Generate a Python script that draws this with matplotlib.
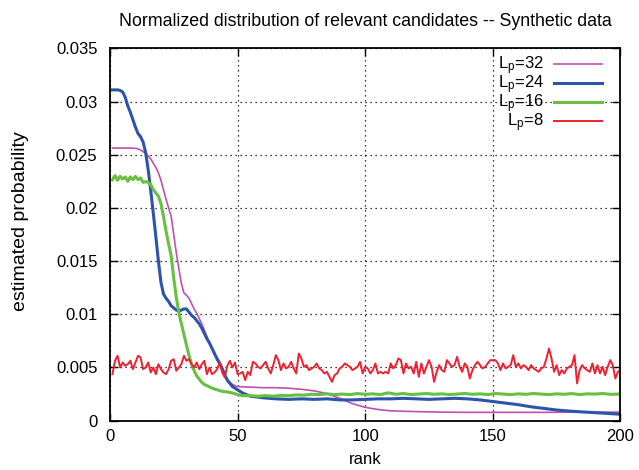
import numpy as np
import matplotlib
matplotlib.use('Agg')
import matplotlib.pyplot as plt
from matplotlib.ticker import MultipleLocator, FuncFormatter

plt.rcParams['font.family'] = ['Liberation Sans', 'DejaVu Sans']
plt.rcParams['mathtext.fontset'] = 'custom'
plt.rcParams['mathtext.rm'] = 'Liberation Sans'
plt.rcParams['mathtext.it'] = 'Liberation Sans'

# L_p = 8 : one value per rank (1..200), units of 1e-3
red_vals = [
    4.37, 5.63, 6.10, 5.00, 5.47, 5.16, 5.31, 5.63, 4.84, 5.47,
    6.10, 5.94, 4.84, 5.00, 5.47, 4.53, 5.00, 4.37, 5.31, 4.84,
    4.53, 4.37, 4.84, 5.63, 5.78, 4.69, 5.00, 5.31, 6.10, 5.63,
    5.78, 5.31, 5.00, 5.47, 4.84, 5.31, 5.63, 4.37, 5.00, 4.37,
    4.53, 4.84, 5.47, 4.53, 4.06, 5.16, 5.63, 5.00, 5.47, 4.37,
    4.44, 4.59, 3.81, 4.59, 4.28, 5.53, 5.38, 5.06, 4.91, 5.22,
    5.53, 4.91, 4.44, 5.22, 6.16, 5.69, 4.75, 5.38, 4.91, 5.06,
    5.53, 4.91, 4.44, 6.31, 5.85, 5.06, 5.22, 4.75, 4.91, 5.06,
    5.38, 4.91, 4.75, 4.44, 4.59, 4.12, 3.65, 4.28, 4.44, 4.91,
    5.06, 5.38, 5.22, 5.06, 4.75, 4.91, 5.06, 5.53, 4.44, 5.06,
    4.91, 4.44, 4.75, 5.38, 4.44, 4.59, 4.44, 4.59, 4.44, 5.38,
    4.91, 5.22, 5.85, 5.69, 4.44, 5.38, 4.91, 5.06, 4.44, 5.53,
    4.12, 5.38, 4.44, 5.06, 5.69, 5.06, 3.65, 4.59, 5.22, 4.75,
    4.59, 5.69, 5.38, 5.06, 5.22, 6.00, 5.06, 4.59, 5.38, 5.06,
    3.97, 4.75, 5.22, 5.53, 5.22, 4.91, 5.06, 5.38, 5.69, 5.69,
    5.69, 5.38, 4.75, 5.38, 4.91, 5.06, 5.22, 6.16, 5.06, 5.38,
    4.91, 5.22, 5.06, 4.75, 5.22, 4.91, 4.75, 4.59, 4.91, 5.06,
    5.85, 6.78, 5.85, 4.59, 5.22, 4.28, 4.75, 4.44, 4.91, 5.06,
    5.22, 6.16, 3.50, 4.75, 5.22, 4.91, 4.75, 4.59, 5.38, 4.44,
    5.22, 4.44, 5.06, 4.28, 5.06, 5.69, 5.22, 3.97, 4.59, 4.75,
]
red_rank = np.arange(1, len(red_vals) + 1)

# L_p = 16
green_rank = [1, 2, 3, 4, 5, 6, 7, 8, 9, 10, 11, 12, 13, 14, 15, 16, 17, 18,
              19, 20, 21, 22, 23, 24, 25, 26, 27, 28, 29, 30, 31, 32, 33, 34,
              35, 36, 37, 38, 40, 42, 44, 46, 48, 50, 52, 55, 58, 61, 64, 67,
              70, 73, 76, 79, 82, 85, 88, 91, 94, 97, 100, 103, 106, 109, 112,
              115, 118, 121, 124, 127, 130, 133, 136, 139, 142, 145, 148, 151,
              154, 157, 160, 163, 166, 169, 172, 175, 178, 181, 184, 187, 190,
              193, 196, 200]
green_vals = [22.66, 23.04, 22.60, 22.97, 22.72, 22.91, 22.50, 22.91, 22.66,
              22.97, 22.66, 22.82, 22.41, 22.47, 22.41, 22.19, 21.72, 21.41,
              21.10, 20.40, 19.20, 17.80, 16.60, 15.50, 13.40, 11.60, 10.20,
              9.10, 8.10, 7.10, 6.10, 5.30, 4.70, 4.20, 3.90, 3.60, 3.40, 3.30,
              3.05, 2.90, 2.75, 2.70, 2.60, 2.45, 2.35, 2.35, 2.30, 2.35, 2.30,
              2.38, 2.35, 2.42, 2.40, 2.48, 2.45, 2.52, 2.45, 2.50, 2.45, 2.55,
              2.48, 2.52, 2.45, 2.62, 2.48, 2.55, 2.45, 2.50, 2.55, 2.48, 2.52,
              2.45, 2.50, 2.55, 2.48, 2.52, 2.45, 2.55, 2.50, 2.45, 2.52, 2.48,
              2.55, 2.50, 2.45, 2.52, 2.48, 2.55, 2.45, 2.52, 2.50, 2.55, 2.48,
              2.50]

# L_p = 24
blue_rank = [1, 2, 3, 4, 5, 6, 7, 8, 9, 10, 11, 12, 13, 14, 15, 16, 17, 18, 19,
             20, 21, 22, 23, 24, 25, 26, 27, 28, 29, 30, 31, 32, 33, 34, 35, 36,
             37, 38, 39, 40, 41, 42, 43, 44, 45, 46, 47, 48, 50, 52, 55, 60, 65,
             70, 75, 80, 85, 90, 95, 100, 105, 110, 115, 120, 125, 130, 135,
             140, 145, 150, 155, 160, 165, 170, 175, 180, 185, 190, 195, 200]
blue_vals = [31.1, 31.1, 31.1, 31.05, 30.9, 30.4, 29.6, 29.0, 28.3, 27.6,
             27.0, 26.7, 26.2, 25.2, 23.6, 21.6, 19.5, 17.3, 15.0, 13.0, 11.9,
             11.5, 11.2, 10.8, 10.6, 10.4, 10.3, 10.4, 10.5, 10.5, 10.2, 9.9,
             9.7, 9.4, 9.1, 8.7, 8.2, 7.7, 7.3, 6.8, 6.3, 5.8, 5.4, 4.9, 4.3,
             3.8, 3.5, 3.2, 2.9, 2.6, 2.3, 2.15, 2.05, 2.0, 2.05, 2.0, 2.05,
             1.95, 1.95, 2.0, 2.05, 2.05, 2.1, 2.05, 2.0, 2.05, 2.1, 2.05, 1.95,
             1.8, 1.65, 1.5, 1.3, 1.15, 1.0, 0.9, 0.82, 0.75, 0.68, 0.6]

# L_p = 32
purple_rank = [1, 4, 8, 9, 10, 11, 12, 13, 14, 15, 16, 17, 18, 19, 20, 21, 22,
               23, 24, 25, 26, 27, 28, 29, 30, 31, 32, 33, 34, 35, 36, 37, 38,
               39, 40, 41, 42, 43, 44, 45, 46, 47, 48, 50, 55, 60, 65, 70, 75,
               80, 85, 90, 95, 100, 105, 110, 120, 130, 140, 150, 160, 170, 180,
               190, 200]
purple_vals = [25.63, 25.63, 25.63, 25.62, 25.6, 25.55, 25.45, 25.3, 25.1, 24.9,
               24.6, 24.2, 23.8, 23.3, 22.6, 21.7, 20.8, 20.0, 19.2, 17.5, 15.8,
               14.3, 12.9, 12.0, 11.8, 11.5, 11.0, 10.5, 10.1, 9.6, 9.1, 8.5,
               7.9, 7.3, 6.8, 6.2, 5.7, 5.2, 4.8, 4.3, 3.9, 3.6, 3.4, 3.2, 3.15,
               3.1, 3.1, 3.05, 2.95, 2.8, 2.55, 2.1, 1.6, 1.25, 1.05, 0.92, 0.85,
               0.8, 0.78, 0.78, 0.78, 0.78, 0.8, 0.8, 0.8]

series = [
    (purple_rank, purple_vals, r'$\mathrm{L_p}$=32', '#c050b0', 1.2),
    (blue_rank, blue_vals, r'$\mathrm{L_p}$=24', '#2c54a8', 2.2),
    (green_rank, green_vals, r'$\mathrm{L_p}$=16', '#68c040', 2.2),
    (red_rank, red_vals, r'$\mathrm{L_p}$=8', '#f02030', 1.4),
]

fig = plt.figure(figsize=(6.39, 4.70), dpi=100)
ax = fig.add_axes([0.172, 0.105, 0.799, 0.792])

for rank, vals, label, color, lw in series:
    ax.plot(rank, np.array(vals) * 1e-3, color=color, lw=lw, label=label)

ax.set_xlim(0, 200)
ax.set_ylim(0, 0.035)
ax.xaxis.set_major_locator(MultipleLocator(50))
ax.yaxis.set_major_locator(MultipleLocator(0.005))
ax.yaxis.set_major_formatter(FuncFormatter(lambda v, p: '%g' % round(v, 4)))
ax.tick_params(direction='in', length=6, width=1, top=True, right=True,
               labelsize=12)
ax.tick_params(axis='y', pad=9)
ax.tick_params(axis='x', pad=6)
for s in ax.spines.values():
    s.set_linewidth(1.3)

ax.grid(True, color='black', linestyle=(0, (1, 3)), linewidth=0.9)

ax.set_title('Normalized distribution of relevant candidates -- Synthetic data',
             fontsize=12.8, pad=16)
ax.set_xlabel('rank', fontsize=12, labelpad=6)
ax.set_ylabel('estimated probability', fontsize=14)
ax.yaxis.set_label_coords(-0.158, 0.535)

leg = ax.legend(loc='upper right', bbox_to_anchor=(0.984, 1.01), frameon=False,
                markerfirst=False, fontsize=12, handlelength=2.9,
                handletextpad=0.6, labelspacing=-0.22, borderaxespad=0.2)

fig.savefig('out.png', dpi=100)
